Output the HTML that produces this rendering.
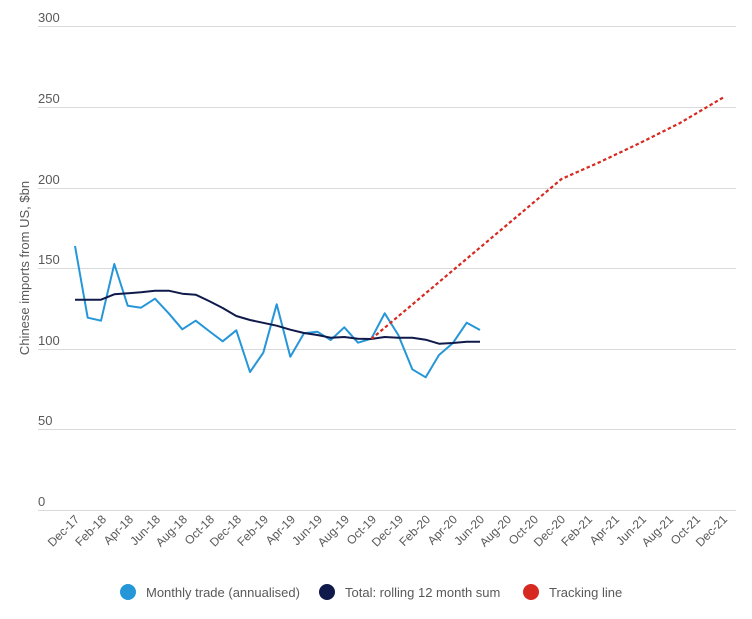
<!DOCTYPE html>
<html><head><meta charset="utf-8"><style>
body{margin:0;background:#fff;}
svg text{font-family:"Liberation Sans",sans-serif;fill:#595959;}
</style></head><body>
<svg width="752" height="614" viewBox="0 0 752 614" xmlns="http://www.w3.org/2000/svg">
<g stroke="#d9d9d9" stroke-width="1">
<line x1="38" y1="26.5" x2="736" y2="26.5"/>
<line x1="38" y1="107.5" x2="736" y2="107.5"/>
<line x1="38" y1="188.5" x2="736" y2="188.5"/>
<line x1="38" y1="268.5" x2="736" y2="268.5"/>
<line x1="38" y1="349.5" x2="736" y2="349.5"/>
<line x1="38" y1="429.5" x2="736" y2="429.5"/>
<line x1="38" y1="510.5" x2="736" y2="510.5"/>
</g>
<g font-size="13">
<text x="38" y="22">300</text>
<text x="38" y="103">250</text>
<text x="38" y="184">200</text>
<text x="38" y="264">150</text>
<text x="38" y="345">100</text>
<text x="38" y="425">50</text>
<text x="38" y="506">0</text>
</g>
<text transform="translate(29,268) rotate(-90)" text-anchor="middle" font-size="13">Chinese imports from US, $bn</text>
<polyline fill="none" stroke="#2596d8" stroke-width="2" stroke-linejoin="round" points="75,246 87.7,317.7 101,320.7 114.3,264 127.7,305.7 141,307.7 155,298.7 168.7,313.3 182.3,329.3 195.7,320.7 209,331 222.7,341.3 236.3,330.3 250,372 263.3,352.7 276.7,304.3 290.3,356.7 304,333.3 317.3,331.7 330.7,340 344.3,327.3 358,342.7 371.3,338.7 384.7,313.3 398.3,335 412.3,369.3 425.7,377.3 439,355 452.7,343.3 466.7,322.7 480,330"/>
<polyline fill="none" stroke="#0f1a4a" stroke-width="2" stroke-linejoin="round" points="75,299.7 101,299.7 114.3,294.3 141,292.3 155,290.7 168.7,290.7 182.3,293.7 195.7,294.7 209,301 222.7,308 236.3,316 250,320 276.7,325.7 290.3,329.7 304,333 317.3,335 330.7,337.7 344.3,337 358,338.7 371.3,339 384.7,337 398.3,337.7 412.3,337.7 425.7,339.7 439,343.7 452.7,343 466.7,341.7 480,341.7"/>
<polyline fill="none" stroke="#d62a20" stroke-width="2.2" stroke-dasharray="3.5,2.5" points="371.3,339 561.5,179 600,162 640,143 680,123 724,97"/>
<g font-size="13">
<circle cx="128" cy="592" r="8" fill="#2596d8"/><text x="146" y="597">Monthly trade (annualised)</text>
<circle cx="327" cy="592" r="8" fill="#0f1a4a"/><text x="345" y="597">Total: rolling 12 month sum</text>
<circle cx="531" cy="592" r="8" fill="#d62a20"/><text x="549" y="597">Tracking line</text>
</g>
<g font-size="12" text-anchor="end">
<text transform="translate(80,520) rotate(-45)">Dec-17</text>
<text transform="translate(107,520) rotate(-45)">Feb-18</text>
<text transform="translate(134,520) rotate(-45)">Apr-18</text>
<text transform="translate(161,520) rotate(-45)">Jun-18</text>
<text transform="translate(188,520) rotate(-45)">Aug-18</text>
<text transform="translate(215,520) rotate(-45)">Oct-18</text>
<text transform="translate(242,520) rotate(-45)">Dec-18</text>
<text transform="translate(269,520) rotate(-45)">Feb-19</text>
<text transform="translate(296,520) rotate(-45)">Apr-19</text>
<text transform="translate(323,520) rotate(-45)">Jun-19</text>
<text transform="translate(350,520) rotate(-45)">Aug-19</text>
<text transform="translate(377,520) rotate(-45)">Oct-19</text>
<text transform="translate(404,520) rotate(-45)">Dec-19</text>
<text transform="translate(431,520) rotate(-45)">Feb-20</text>
<text transform="translate(458,520) rotate(-45)">Apr-20</text>
<text transform="translate(485,520) rotate(-45)">Jun-20</text>
<text transform="translate(512,520) rotate(-45)">Aug-20</text>
<text transform="translate(539,520) rotate(-45)">Oct-20</text>
<text transform="translate(566,520) rotate(-45)">Dec-20</text>
<text transform="translate(593,520) rotate(-45)">Feb-21</text>
<text transform="translate(620,520) rotate(-45)">Apr-21</text>
<text transform="translate(647,520) rotate(-45)">Jun-21</text>
<text transform="translate(674,520) rotate(-45)">Aug-21</text>
<text transform="translate(701,520) rotate(-45)">Oct-21</text>
<text transform="translate(728,520) rotate(-45)">Dec-21</text>
</g>
</svg>
</body></html>
